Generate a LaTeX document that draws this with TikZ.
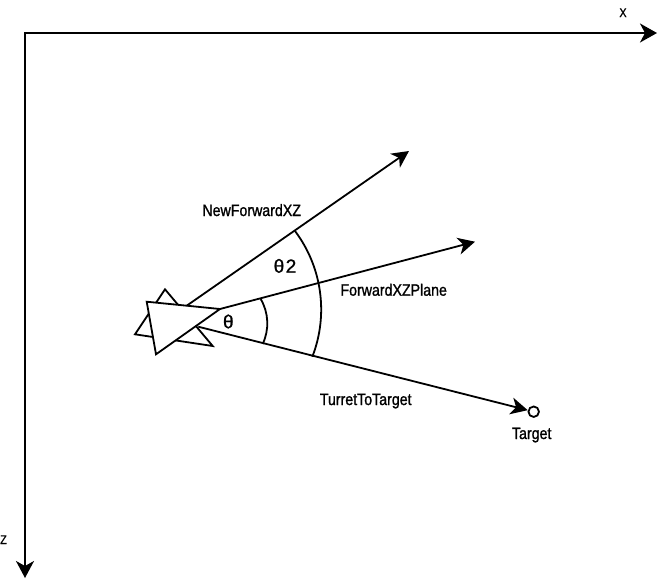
\documentclass[tikz,border=0pt]{standalone}
\usepackage{fontspec}
\setmainfont{Liberation Sans}[FakeStretch=0.86,FakeBold=1.2]
\newfontfamily\thetafont{Liberation Sans}[FakeBold=1.2]
\usetikzlibrary{arrows.meta}
\begin{document}
\begin{tikzpicture}[x=1pt,y=-1pt,line width=1.8pt,
  vec/.style={-{Stealth[length=17pt,width=17pt,inset=5pt]}},
  lbl/.style={font=\fontsize{16.5}{19}\selectfont,inner sep=0pt,anchor=base},
  anglbl/.style={font=\thetafont\fontsize{19}{22}\selectfont,inner sep=0pt,anchor=base},
  axlbl/.style={font=\fontsize{12.5}{14}\selectfont,inner sep=0pt,anchor=base},
  turret/.style={fill=white,line join=miter}]
\useasboundingbox (0,0) rectangle (658,579);
% axes
\coordinate (O) at (25,33);
\coordinate (Xend) at (657,33);
\coordinate (Zend) at (25,578);
\draw[{Stealth[length=17pt,width=18pt,inset=5pt]}-{Stealth[length=17pt,width=19pt,inset=5pt]}] (Zend) -- (O) -- (Xend);
\node[axlbl] (lx) at (623,17) {X};
\node[axlbl] (lz) at (3.5,544) {Z};
% turret
\draw[turret] (165,289.3) -- (135,334.3) -- (212.7,346) -- cycle;
\draw[turret] (146.7,301.7) -- (156,354.3) -- (220,309) -- cycle;
% vectors
\coordinate (nfS) at (186.7,305.7);
\coordinate (nfE) at (409,151);
\coordinate (fwS) at (220,309);
\coordinate (fwE) at (475,241.7);
\coordinate (ttS) at (198.3,326.7);
\node[circle,draw,minimum size=10.5pt,inner sep=0pt] (tgt) at (533.7,411.7) {};
\draw[vec] (nfS) -- (nfE);
\draw[vec] (fwS) -- (fwE);
\draw[vec] (ttS) -- (tgt);
% angle arcs
\draw (295,231) arc[start angle=36.9,end angle=-21.2,radius=130.7pt];
\draw (260.7,299) arc[start angle=30.3,end angle=-25.2,radius=48.3pt];
% labels
\node[lbl] (lnf) at (251.7,216) {NewForwardXZ};
\node[lbl] (lfw) at (393.7,295.7) {ForwardXZPlane};
\node[lbl] (ltt) at (365.7,405) {TurretToTarget};
\node[lbl] (ltg) at (531.7,439) {Target};
\node[anglbl] (lth) at (228.3,328.3) {θ};
\node[anglbl] (lth2) at (285,272.7) {θ\kern1.5pt 2};
\end{tikzpicture}
\end{document}
